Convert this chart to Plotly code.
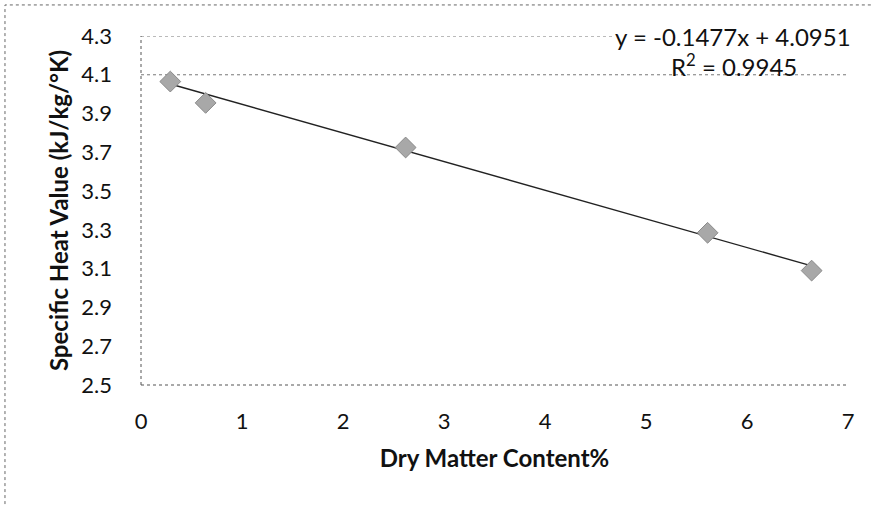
import plotly.graph_objects as go

dry_matter = [0.29, 0.64, 2.62, 5.61, 6.64]
specific_heat = [4.065, 3.955, 3.725, 3.285, 3.09]
slope = -0.1477
intercept = 4.0951
r2 = 0.9945
visible_grid = [4.1, 4.3]

font = "Lato, 'Open Sans', sans-serif"

x_fit = [min(dry_matter), max(dry_matter)]
y_fit = [slope * v + intercept for v in x_fit]

fig = go.Figure()
fig.add_trace(go.Scatter(x=x_fit, y=y_fit, mode="lines",
                         line=dict(color="#222222", width=1.4), showlegend=False))
fig.add_trace(go.Scatter(x=dry_matter, y=specific_heat, mode="markers",
                         marker=dict(symbol="diamond", size=16, color="#a8a8a8",
                                     line=dict(color="#8a8a8a", width=1)),
                         showlegend=False))

grid_shapes = [dict(type="line", xref="paper", yref="y", x0=0, x1=1, y0=v, y1=v,
                    layer="below", line=dict(color="#777777", width=1, dash="dot"))
               for v in visible_grid]

fig.update_layout(
    width=872, height=507,
    margin=dict(l=141, r=24, t=36, b=122),
    paper_bgcolor="white", plot_bgcolor="white",
    font=dict(family=font, size=22, color="#111111"),
    xaxis=dict(range=[0, 7], tick0=0, dtick=1, showgrid=False, zeroline=False,
               showline=False, ticks="", ticklabelstandoff=21, automargin=False,
               title=dict(text="<b>Dry Matter Content%</b>", standoff=17,
                          font=dict(size=24))),
    yaxis=dict(range=[2.5, 4.3], tick0=2.5, dtick=0.2, tickformat=".1f",
               showgrid=False, zeroline=False, showline=False,
               ticks="", ticklabelstandoff=28, automargin=False,
               title=dict(text="<b>Specific Heat Value (kJ/kg/°K)</b>", standoff=5,
                          font=dict(size=24))),
    annotations=[
        dict(x=1.007, y=1.0, xref="paper", yref="paper", xanchor="right", yanchor="middle",
             text=f"y = {slope}x + {intercept}", showarrow=False,
             font=dict(family=font, size=24, color="#111111"), bgcolor="white"),
        dict(x=0.839, y=0.918, xref="paper", yref="paper", xanchor="center", yanchor="middle",
             text=f"R<sup>2</sup> = {r2}", showarrow=False,
             font=dict(family=font, size=24, color="#111111")),
    ],
    shapes=grid_shapes + [
        dict(type="line", xref="paper", yref="paper", x0=0, x1=0, y0=0, y1=1,
             line=dict(color="#555555", width=1, dash="dot")),
        dict(type="line", xref="paper", yref="paper", x0=0, x1=1, y0=0, y1=0,
             line=dict(color="#555555", width=1.2, dash="dot")),
        dict(type="rect", xref="paper", yref="paper",
             x0=-0.1924, x1=1.05, y0=-0.45, y1=1.089,
             line=dict(color="#666666", width=1, dash="dot")),
    ],
)

fig.write_html("out.html", config={"displayModeBar": False},
               post_script="document.body.style.margin='0';")
